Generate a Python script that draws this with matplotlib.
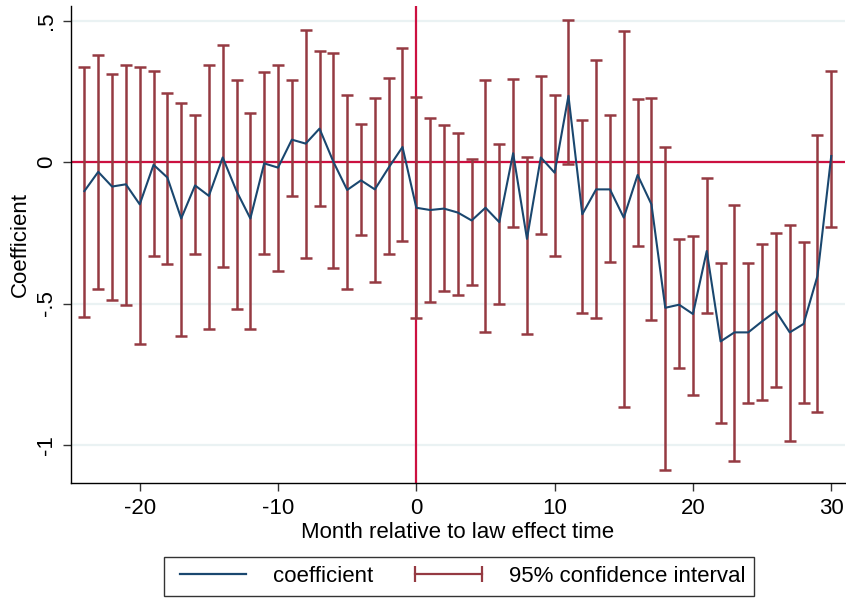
import matplotlib

matplotlib.use("Agg")
import matplotlib.pyplot as plt
from matplotlib.lines import Line2D

plt.rcParams["font.family"] = ["Liberation Sans Narrow", "Liberation Sans", "DejaVu Sans"]
plt.rcParams["axes.unicode_minus"] = False

# months relative to the law taking effect
months = list(range(-24, 31))

coef = [-0.102, -0.034, -0.086, -0.078, -0.149, -0.009, -0.054, -0.199, -0.082, -0.119,
        0.017, -0.102, -0.199, -0.004, -0.019, 0.080, 0.066, 0.119, 0.002, -0.098,
        -0.064, -0.096, -0.019, 0.054, -0.161, -0.169, -0.164, -0.178, -0.206, -0.161,
        -0.212, 0.032, -0.271, 0.017, -0.037, 0.235, -0.184, -0.096, -0.096, -0.196,
        -0.045, -0.149, -0.515, -0.504, -0.537, -0.314, -0.634, -0.602, -0.602, -0.563,
        -0.527, -0.602, -0.572, -0.403, 0.022]

ci_upper = [0.336, 0.380, 0.312, 0.345, 0.336, 0.323, 0.245, 0.208, 0.167, 0.345,
            0.414, 0.291, 0.176, 0.318, 0.345, 0.292, 0.468, 0.395, 0.387, 0.239,
            0.135, 0.226, 0.299, 0.404, 0.232, 0.155, 0.131, 0.104, 0.013, 0.291,
            0.063, 0.294, 0.017, 0.304, 0.239, 0.504, 0.149, 0.362, 0.167, 0.466,
            0.223, 0.229, 0.054, -0.273, -0.260, -0.057, -0.356, -0.152, -0.356, -0.288,
            -0.252, -0.223, -0.283, 0.096, 0.324]

ci_lower = [-0.547, -0.447, -0.487, -0.506, -0.643, -0.332, -0.360, -0.616, -0.324, -0.589,
            -0.369, -0.519, -0.589, -0.324, -0.384, -0.119, -0.338, -0.155, -0.374, -0.447,
            -0.259, -0.423, -0.324, -0.279, -0.552, -0.495, -0.455, -0.469, -0.433, -0.600,
            -0.500, -0.229, -0.606, -0.255, -0.332, -0.005, -0.533, -0.551, -0.352, -0.866,
            -0.297, -0.557, -1.089, -0.728, -0.823, -0.533, -0.923, -1.056, -0.852, -0.843,
            -0.795, -0.988, -0.852, -0.884, -0.228]

xticks = [-20, -10, 0, 10, 20, 30]
yticks = [0.5, 0, -0.5, -1]
ytick_labels = [".5", "0", "-.5", "-1"]

NAVY = "#1a476f"
MAROON = "#953a42"
RED = "#cc1040"
GRID = "#eaf2f3"

fig = plt.figure(figsize=(8.46, 5.98), dpi=100)
ax = fig.add_axes([0.0839, 0.1923, 0.915, 0.7977])

for y in yticks:
    ax.axhline(y, color=GRID, lw=1.6, zorder=0)
ax.axhline(0, color=RED, lw=1.6, zorder=1)
ax.axvline(0, color=RED, lw=1.6, zorder=1)

err_low = [c - lo for c, lo in zip(coef, ci_lower)]
err_high = [hi - c for c, hi in zip(coef, ci_upper)]
ax.errorbar(months, coef, yerr=[err_low, err_high], fmt="none", ecolor=MAROON,
            elinewidth=1.8, capsize=4.6, capthick=1.8, zorder=2)
ax.plot(months, coef, color=NAVY, lw=1.5, zorder=3)

ax.set_xlim(-24.97, 31.0)
ax.set_ylim(-1.135, 0.553)
ax.set_xticks(xticks)
ax.set_yticks(yticks)
ax.set_yticklabels(ytick_labels, rotation=90, va="center")
ax.tick_params(axis="both", length=6, width=1, labelsize=16, color="#333333")
ax.tick_params(axis="x", pad=5)
ax.tick_params(axis="y", pad=4)
for side in ("top", "right"):
    ax.spines[side].set_visible(False)
for side in ("left", "bottom"):
    ax.spines[side].set_linewidth(1)
ax.set_xlabel("Month relative to law effect time", fontsize=16, labelpad=2)
ax.set_ylabel("Coefficient", fontsize=16, labelpad=4)

handles = [
    Line2D([], [], color=NAVY, lw=1.6),
    Line2D([], [], color=MAROON, lw=1.6, marker="|", markersize=11, markeredgewidth=1.6),
]
leg = fig.legend(handles, ["coefficient", "95% confidence interval"], loc="center",
                 bbox_to_anchor=(0.5426, 0.036), ncol=2, numpoints=2, fontsize=16,
                 handlelength=3.6, columnspacing=1.6, handletextpad=0.9,
                 fancybox=False, edgecolor="black", borderpad=0.4)
leg.get_frame().set_linewidth(1)

fig.savefig("out.png", dpi=100)
